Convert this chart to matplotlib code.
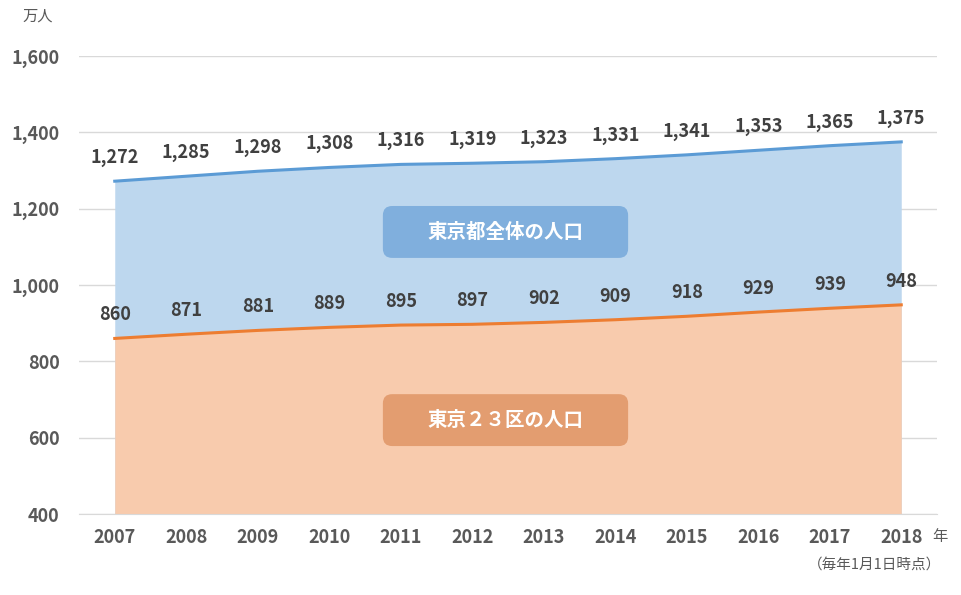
import matplotlib
matplotlib.use("Agg")
import matplotlib.pyplot as plt
from matplotlib.patches import FancyBboxPatch

plt.rcParams['font.family'] = ['Noto Sans CJK JP', 'DejaVu Sans']

years = ['2007', '2008', '2009', '2010', '2011', '2012', '2013', '2014', '2015', '2016', '2017', '2018']
tokyo_total = [1272, 1285, 1298, 1308, 1316, 1319, 1323, 1331, 1341, 1353, 1365, 1375]
tokyo_23 = [860, 871, 881, 889, 895, 897, 902, 909, 918, 929, 939, 948]
yticks = [400, 600, 800, 1000, 1200, 1400, 1600]

fig = plt.figure(figsize=(9.61, 5.95), dpi=100)
ax = fig.add_axes([79/961, 1-514/595, (937-79)/961, (514-56)/595])

x = list(range(len(years)))
ax.fill_between(x, 400, tokyo_total, color='#BDD7EE', linewidth=0, zorder=1)
ax.fill_between(x, 400, tokyo_23, color='#F8CBAD', linewidth=0, zorder=2)
ax.plot(x, tokyo_total, color='#5B9BD5', linewidth=2.2, zorder=3)
ax.plot(x, tokyo_23, color='#ED7D31', linewidth=2.2, zorder=3)

for xi, v in zip(x, tokyo_total):
    ax.annotate(f'{v:,}', (xi, v), xytext=(0, 17), textcoords='offset points',
                ha='center', va='center', fontsize=13, fontweight='bold', color='#404040')
for xi, v in zip(x, tokyo_23):
    ax.annotate(f'{v:,}', (xi, v), xytext=(0, 17), textcoords='offset points',
                ha='center', va='center', fontsize=13, fontweight='bold', color='#404040')

ax.set_xlim(-0.5, len(years) - 0.5)
ax.set_ylim(400, 1600)
ax.set_yticks(yticks)
ax.set_yticklabels([f'{t:,}' for t in yticks])
ax.set_xticks(x)
ax.set_xticklabels(years)
ax.grid(axis='y', color='#D9D9D9', linewidth=1, zorder=0)
ax.set_axisbelow(True)
for s in ['top', 'right', 'left']:
    ax.spines[s].set_visible(False)
ax.spines['bottom'].set_color('#D9D9D9')
ax.tick_params(axis='both', length=0, labelsize=13, labelcolor='#595959')
for lab in ax.get_xticklabels() + ax.get_yticklabels():
    lab.set_fontweight('bold')
ax.tick_params(axis='x', pad=10)
ax.tick_params(axis='y', pad=14)

# Labels in boxes
def box(x0, x1, y0, y1, fc, text):
    p = FancyBboxPatch((x0, y0), x1 - x0, y1 - y0,
                       boxstyle='round,pad=0,rounding_size=0.13',
                       mutation_aspect=187, fc=fc, ec='none', zorder=4)
    ax.add_patch(p)
    ax.text((x0 + x1) / 2, (y0 + y1) / 2, text, ha='center', va='center',
            fontsize=14, fontweight='bold', color='white', zorder=5)

box(3.75, 7.18, 1071, 1207, '#80AFDD', '東京都全体の人口')
box(3.75, 7.18, 578, 714, '#E39D70', '東京２３区の人口')

fig.text(38/961, 1-16/595, '万人', ha='center', va='center', fontsize=11, color='#595959')
fig.text(940/961, 1-537/595, '年', ha='center', va='center', fontsize=11, color='#595959')
fig.text(874/961, 1-565/595, '（毎年1月1日時点）', ha='center', va='center', fontsize=10.5, color='#595959')

fig.savefig('out.png', dpi=100)
